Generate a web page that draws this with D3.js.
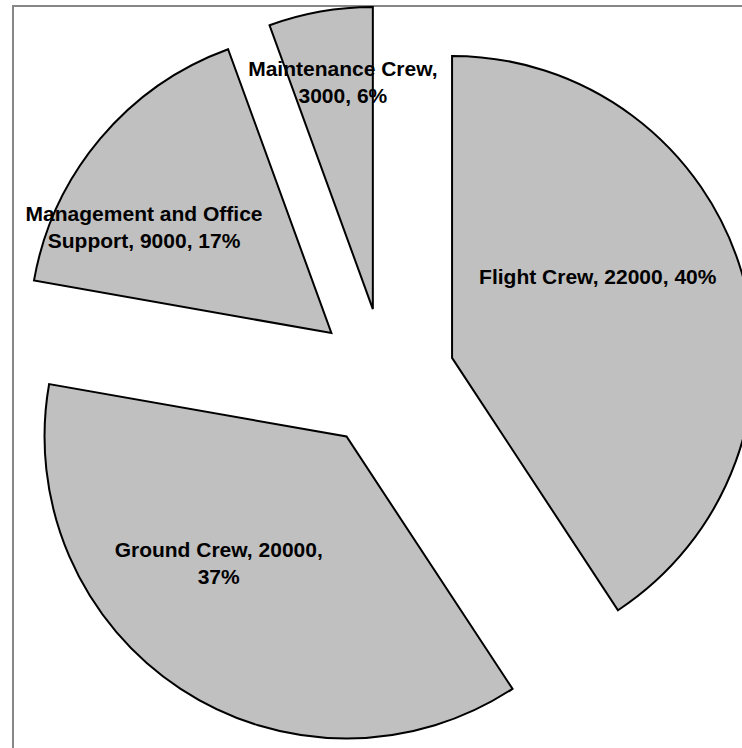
<!DOCTYPE html>
<html><head><meta charset="utf-8">
<script src="https://cdn.jsdelivr.net/npm/d3@7"></script>
<style>html,body{margin:0;padding:0;background:#fff;overflow:hidden}</style>
</head><body>
<svg id="chart" width="742" height="748"></svg>
<script>
// ---- data ----
const categories = ["Flight Crew", "Ground Crew", "Management and Office Support", "Maintenance Crew"];
const values = [22000, 20000, 9000, 3000];
const percentLabels = ["40%", "37%", "17%", "6%"];

// ---- layout ----
const W = 742, H = 748;
const cx = 385, cy = 378, R = 302, explode = 70;
const fontSize = 21, lineH = 27;
const labelLayout = [
  {angle: 60.75, dist: 167, wrap: 400},
  {angle: 225.25, dist: 180, wrap: 215},
  {angle: 299.4, dist: 215, wrap: 250},
  {angle: 352.5, dist: 229.5, wrap: 200}
];

const svg = d3.select("#chart");
svg.append("rect").attr("width", W).attr("height", H).attr("fill", "#fff");
svg.append("rect").attr("x", 13).attr("y", 6).attr("width", 900).attr("height", 900)
  .attr("fill", "none").attr("stroke", "#878787").attr("stroke-width", 2);

const data = categories.map((c, i) => ({cat: c, value: values[i], pct: percentLabels[i]}));
const pie = d3.pie().sort(null).value(d => d.value).startAngle(0).endAngle(2 * Math.PI);
const arc = d3.arc().innerRadius(0).outerRadius(R);
const arcs = pie(data);

const g = svg.append("g").attr("transform", `translate(${cx},${cy})`);

arcs.forEach(a => {
  const mid = (a.startAngle + a.endAngle) / 2;
  a.ox = explode * Math.sin(mid);
  a.oy = -explode * Math.cos(mid);
});

g.selectAll("path.slice").data(arcs).join("path")
  .attr("class", "slice")
  .attr("d", arc)
  .attr("transform", d => `translate(${d.ox},${d.oy})`)
  .attr("fill", "#c0c0c0")
  .attr("stroke", "#000")
  .attr("stroke-width", 2)
  .attr("stroke-linejoin", "miter");

// measure helper
const meas = svg.append("text").attr("font-family", "'Liberation Sans', Arial, sans-serif")
  .attr("font-weight", "bold").attr("font-size", fontSize).attr("visibility", "hidden");
function textW(s) { meas.text(s); return meas.node().getComputedTextLength(); }
function wrap(s, maxW) {
  const words = s.split(" ");
  const lines = [];
  let cur = "";
  words.forEach(w => {
    const t = cur ? cur + " " + w : w;
    if (cur && textW(t) > maxW) { lines.push(cur); cur = w; } else cur = t;
  });
  if (cur) lines.push(cur);
  return lines;
}

arcs.forEach((a, i) => {
  const L = labelLayout[i];
  const ang = L.angle * Math.PI / 180;
  const lx = cx + a.ox + L.dist * Math.sin(ang);
  const ly = cy + a.oy - L.dist * Math.cos(ang);
  const label = `${a.data.cat}, ${a.data.value}, ${a.data.pct}`;
  const lines = wrap(label, L.wrap);
  const firstBase = ly - (lines.length - 1) * lineH / 2 + 7.5;
  const t = svg.append("text")
    .attr("font-family", "'Liberation Sans', Arial, sans-serif")
    .attr("font-weight", "bold").attr("font-size", fontSize)
    .attr("fill", "#000").attr("text-anchor", "middle");
  lines.forEach((ln, k) => {
    t.append("tspan").attr("x", lx).attr("y", firstBase + k * lineH).text(ln);
  });
});
meas.remove();
</script>
</body></html>
